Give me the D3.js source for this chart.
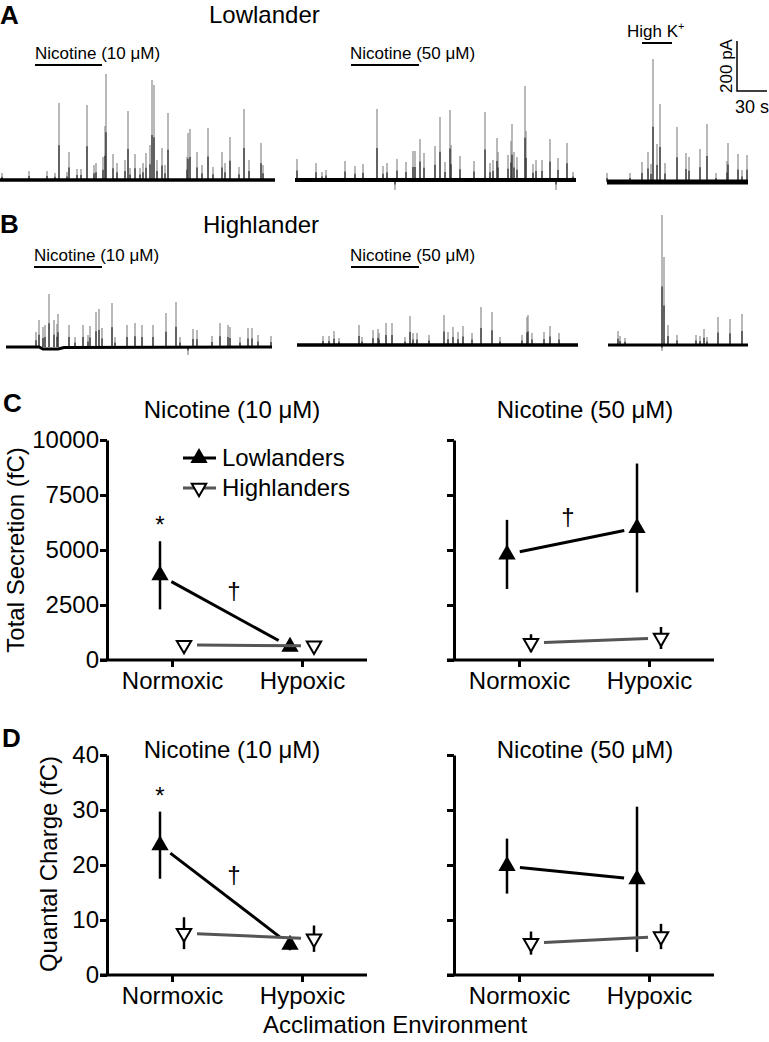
<!DOCTYPE html>
<html>
<head>
<meta charset="utf-8">
<script src="https://cdn.jsdelivr.net/npm/d3@7"></script>
<style>
  body { margin: 0; background: #fff; }
  svg { font-family: "Liberation Sans", Arial, sans-serif; }
</style>
</head>
<body>
<div id="fig"></div>
<script>
// amperometric spikes, [time (s), amplitude (pA)]
const lowNic10Spikes = [[2,28],[29,36],[47,36],[55,28],[59,308],[67,32],[69,112],[77,44],[81,44],[87,300],[94,60],[96,68],[103,92],[105,216],[106,424],[113,104],[117,68],[125,80],[128,276],[130,48],[135,104],[140,48],[143,68],[146,108],[150,140],[152,400],[154,380],[157,80],[162,128],[165,60],[168,268],[187,92],[188,188],[190,204],[197,112],[202,60],[208,208],[213,52],[222,112],[225,68],[230,172],[239,52],[244,284],[249,80],[261,148],[263,60]];
const lowNic50Spikes = [[2,84],[21,68],[27,32],[31,40],[50,76],[60,56],[68,64],[82,284],[88,56],[92,68],[100,-40],[102,84],[111,72],[118,116],[120,116],[125,164],[129,108],[140,136],[145,252],[150,72],[155,280],[156,140],[165,96],[179,76],[190,272],[195,68],[198,80],[202,168],[203,112],[213,100],[216,156],[217,224],[219,112],[222,92],[230,376],[231,196],[238,64],[241,80],[247,80],[255,164],[261,-40],[263,88],[272,148],[278,32]];
const lowHighKSpikes = [[0,36],[23,36],[35,80],[41,120],[44,72],[46,492],[50,152],[53,312],[58,76],[70,220],[79,116],[82,100],[93,132],[100,232],[109,36],[120,84],[121,156],[131,112],[135,48],[140,108]];
const highNic10Spikes = [[30,60],[33,108],[37,80],[39,88],[43,212],[48,108],[51,92],[52,132],[63,88],[69,40],[77,88],[82,48],[84,84],[90,140],[93,152],[96,76],[106,176],[109,40],[121,88],[129,96],[136,88],[147,88],[160,136],[170,180],[174,40],[182,-32],[187,72],[191,68],[206,44],[214,96],[222,88],[224,80],[234,40],[242,76],[246,76],[252,48],[265,44]];
const highNic10Baseline = [[0,0],[33,0],[37,-8],[52,-8],[58,-2],[266,0]];
const highNic50Spikes = [[26,36],[32,36],[37,56],[42,28],[62,80],[65,32],[76,60],[81,64],[82,48],[89,88],[95,88],[108,32],[113,116],[116,48],[120,48],[132,40],[147,120],[151,52],[156,72],[161,52],[166,76],[175,48],[184,152],[195,132],[203,32],[225,40],[230,112],[231,120],[235,48],[247,52],[253,76],[262,48]];
const highHighKSpikes = [[10,56],[12,36],[17,28],[54,520],[54,-24],[56,352],[60,80],[69,40],[88,40],[92,36],[96,64],[99,32],[110,112],[122,104],[134,124]];
const traceDurations = [275, 281, 141, 266, 281, 140];

// summary data, mean and sem per condition
const conditions = ["Normoxic", "Hypoxic"];
const groups = ["Lowlanders", "Highlanders"];
const secretionTicks = [0, 2500, 5000, 7500, 10000];
const chargeTicks = [0, 10, 20, 30, 40];

const secretion10Low = [3850, 600];
const secretion10LowErr = [1550, 150];
const secretion10High = [680, 650];
const secretion10HighErr = [100, 100];
const secretion50Low = [4800, 6000];
const secretion50LowErr = [1570, 2930];
const secretion50High = [770, 1000];
const secretion50HighErr = [400, 500];

const charge10Low = [23.6, 5.5];
const charge10LowErr = [6.1, 1];
const charge10High = [7.6, 6.6];
const charge10HighErr = [2.9, 2.4];
const charge50Low = [19.8, 17.4];
const charge50LowErr = [5, 13.2];
const charge50High = [5.8, 7.0];
const charge50HighErr = [2.1, 2.3];

const W = 769, H = 1042;
const svg = d3.select("#fig").append("svg").attr("width", W).attr("height", H);

// ---------- traces ----------
const pxPerSec = 1;
const pxPerPA = 50 / 200;

function drawTrace(spikes, duration, x0, base, noise, baseline) {
  const g = svg.append("g");
  const x = d3.scaleLinear().domain([0, duration]).range([x0, x0 + duration * pxPerSec]);
  const y = d3.scaleLinear().domain([0, 200]).range([base, base - 200 * pxPerPA]);

  g.selectAll(".spk").data(spikes).join("line")
    .attr("x1", d => x(d[0])).attr("x2", d => x(d[0]))
    .attr("y1", y(0)).attr("y2", d => y(d[1]))
    .attr("stroke", "#8a8a8a").attr("stroke-width", 1.2);
  g.selectAll(".core").data(spikes).join("line")
    .attr("x1", d => x(d[0])).attr("x2", d => x(d[0]))
    .attr("y1", y(0)).attr("y2", d => y(d[1] * 0.45))
    .attr("stroke", "#333").attr("stroke-width", 1.3);

  const pts = baseline || [[0, 0], [duration, 0]];
  g.append("path")
    .attr("d", d3.line().x(d => x(d[0])).y(d => y(d[1]))(pts))
    .attr("fill", "none").attr("stroke", "#000").attr("stroke-width", noise);
}

drawTrace(lowNic10Spikes, traceDurations[0], 0, 180, 3.5);
drawTrace(lowNic50Spikes, traceDurations[1], 295, 180, 4);
drawTrace(lowHighKSpikes, traceDurations[2], 607, 182, 5);
drawTrace(highNic10Spikes, traceDurations[3], 6, 347, 3, highNic10Baseline);
drawTrace(highNic50Spikes, traceDurations[4], 297, 345, 3.5);
drawTrace(highHighKSpikes, traceDurations[5], 608, 345, 3);

function label(x, y, txt, size, opts = {}) {
  return svg.append("text").attr("x", x).attr("y", y)
    .attr("font-size", size)
    .attr("font-weight", opts.bold ? "bold" : null)
    .attr("text-anchor", opts.anchor || "start")
    .attr("transform", opts.rotate ? `rotate(-90,${x},${y})` : null)
    .text(txt);
}
function bar(x1, x2, y) {
  svg.append("line").attr("x1", x1).attr("x2", x2).attr("y1", y).attr("y2", y)
    .attr("stroke", "#000").attr("stroke-width", 2);
}

label(0, 24, "A", 26, { bold: true });
label(0, 233, "B", 26, { bold: true });
label(209, 23, "Lowlander", 24);
label(203, 233, "Highlander", 24);

label(35, 59, "Nicotine (10 μM)", 17); bar(35, 102, 65);
label(350, 59, "Nicotine (50 μM)", 17); bar(351, 419, 65);
label(34, 261, "Nicotine (10 μM)", 17); bar(34, 102, 267);
label(350, 261, "Nicotine (50 μM)", 17); bar(351, 419, 267);

const hk = label(627, 37, "High K", 17);
hk.append("tspan").attr("font-size", 11).attr("dy", -7).text("+");
bar(642, 672, 43);

// scale bar
svg.append("path").attr("d", `M737,${91 - 200 * pxPerPA}V91H${737 + 30 * pxPerSec}`)
  .attr("fill", "none").attr("stroke", "#000").attr("stroke-width", 1.5);
label(732, 66, "200 pA", 17, { rotate: true, anchor: "middle" });
label(735, 113, "30 s", 18);

// ---------- summary panels ----------
label(3, 412, "C", 26, { bold: true });
label(2, 747, "D", 26, { bold: true });

function drawPanel(cfg) {
  const g = svg.append("g");
  const x = d3.scalePoint().domain(conditions).range([cfg.left, cfg.left + 260]).padding(0.5);
  const y = d3.scaleLinear().domain([0, cfg.ticks[cfg.ticks.length - 1]]).range([cfg.bottom, cfg.top]);

  const yAxis = d3.axisLeft(y).tickValues(cfg.ticks).tickSize(7).tickPadding(1).tickSizeOuter(0)
    .tickFormat(cfg.tickLabels ? d3.format("d") : "");
  const ya = g.append("g").attr("transform", `translate(${cfg.left},0)`).call(yAxis);
  const xa = g.append("g").attr("transform", `translate(0,${cfg.bottom})`)
    .call(d3.axisBottom(x).tickSize(7).tickPadding(5).tickSizeOuter(0));
  [ya, xa].forEach(a => {
    a.attr("font-size", 24).attr("font-family", null);
    a.select(".domain").attr("stroke-width", 3);
    a.selectAll(".tick line").attr("stroke-width", 3);
    a.selectAll("text").attr("fill", "#000");
  });
  xa.select(".domain").attr("d", `M${cfg.left - 7},0H${cfg.left + 260}`);

  label(cfg.titleX, cfg.titleY, cfg.title, 24, { anchor: "middle" });

  const series = [
    { mean: cfg.low, err: cfg.lowErr, dx: -12, color: "#000", up: true },
    { mean: cfg.high, err: cfg.highErr, dx: 12, color: "#555", up: false }
  ];
  series.forEach(s => {
    const pts = conditions.map((c, i) => ({ x: x(c) + s.dx, y: y(s.mean[i]), lo: y(s.mean[i] - s.err[i]), hi: y(s.mean[i] + s.err[i]) }));
    // connecting line, kept clear of the markers
    const [a, b] = pts;
    const len = Math.hypot(b.x - a.x, b.y - a.y), gap = 13;
    const ux = (b.x - a.x) / len, uy = (b.y - a.y) / len;
    g.append("line")
      .attr("x1", a.x + ux * gap).attr("y1", a.y + uy * gap)
      .attr("x2", b.x - ux * gap).attr("y2", b.y - uy * gap)
      .attr("stroke", s.color).attr("stroke-width", 3);
    g.selectAll(null).data(pts).join("line")
      .attr("x1", d => d.x).attr("x2", d => d.x)
      .attr("y1", d => d.lo).attr("y2", d => d.hi)
      .attr("stroke", "#000").attr("stroke-width", 2.5);
    g.selectAll(null).data(pts).join("path")
      .attr("d", d3.symbol(d3.symbolTriangle, s.up ? 130 : 90))
      .attr("transform", d => `translate(${d.x},${d.y})` + (s.up ? "" : " rotate(180)"))
      .attr("fill", s.up ? "#000" : "#fff")
      .attr("stroke", "#000").attr("stroke-width", s.up ? 0 : 2);
  });

  if (cfg.star) {
    label(x(conditions[0]) - 12, y(cfg.low[0] + cfg.lowErr[0]) - 8, "*", 24, { anchor: "middle" });
  }
  if (cfg.dagger) {
    const mx = (x(conditions[0]) + x(conditions[1])) / 2 - 12 + cfg.dagger[0];
    const my = (y(cfg.low[0]) + y(cfg.low[1])) / 2 + cfg.dagger[1];
    label(mx, my, "†", 24, { anchor: "middle" });
  }
  return { x, y };
}

drawPanel({ left: 107, top: 440, bottom: 660, ticks: secretionTicks, tickLabels: true,
  title: "Nicotine (10 μM)", titleX: 232, titleY: 418,
  low: secretion10Low, lowErr: secretion10LowErr, high: secretion10High, highErr: secretion10HighErr,
  star: true, dagger: [9, -12] });
drawPanel({ left: 454, top: 440, bottom: 660, ticks: secretionTicks, tickLabels: false,
  title: "Nicotine (50 μM)", titleX: 585, titleY: 418,
  low: secretion50Low, lowErr: secretion50LowErr, high: secretion50High, highErr: secretion50HighErr,
  dagger: [-4, -16] });
drawPanel({ left: 107, top: 755, bottom: 975, ticks: chargeTicks, tickLabels: true,
  title: "Nicotine (10 μM)", titleX: 232, titleY: 758,
  low: charge10Low, lowErr: charge10LowErr, high: charge10High, highErr: charge10HighErr,
  star: true, dagger: [9, -12] });
drawPanel({ left: 454, top: 755, bottom: 975, ticks: chargeTicks, tickLabels: false,
  title: "Nicotine (50 μM)", titleX: 585, titleY: 758,
  low: charge50Low, lowErr: charge50LowErr, high: charge50High, highErr: charge50HighErr });

// legend
const leg = svg.append("g");
groups.forEach((name, i) => {
  const ly = 458 + i * 30;
  leg.append("line").attr("x1", 183).attr("x2", 216).attr("y1", ly).attr("y2", ly)
    .attr("stroke", i ? "#555" : "#000").attr("stroke-width", 3);
  leg.append("path").attr("d", d3.symbol(d3.symbolTriangle, i ? 90 : 130))
    .attr("transform", `translate(199,${ly})` + (i ? " rotate(180)" : ""))
    .attr("fill", i ? "#fff" : "#000").attr("stroke", "#000").attr("stroke-width", i ? 2 : 0);
  leg.append("text").attr("x", 222).attr("y", ly + 8).attr("font-size", 24).text(name);
});

// axis titles
label(24, 550, "Total Secretion (fC)", 24, { rotate: true, anchor: "middle" });
label(57, 864, "Quantal Charge (fC)", 24, { rotate: true, anchor: "middle" });
label(395, 1033, "Acclimation Environment", 24, { anchor: "middle" });
</script>
</body>
</html>
